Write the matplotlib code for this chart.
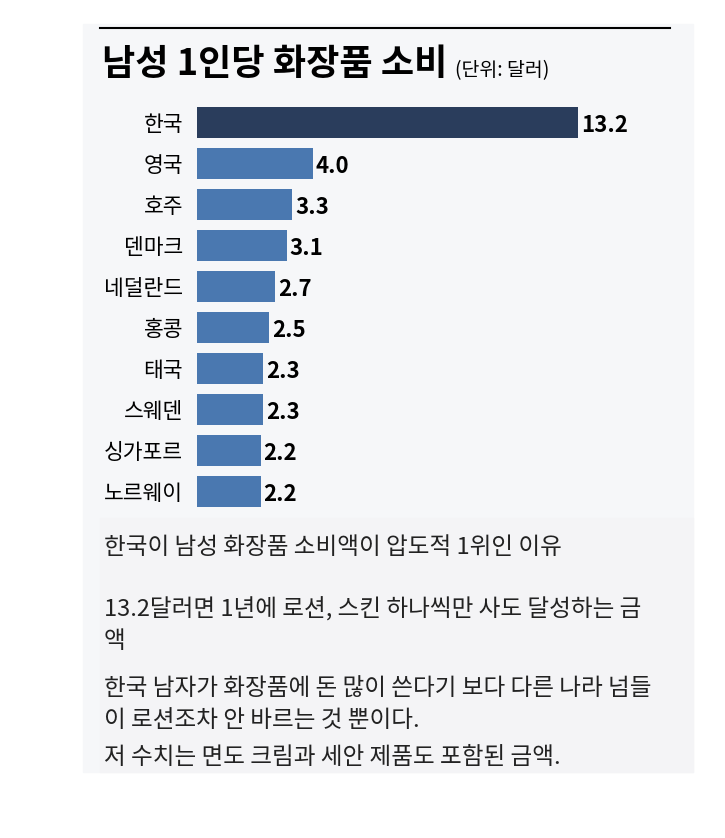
import matplotlib
matplotlib.use("Agg")
import matplotlib.pyplot as plt
from matplotlib.patches import Rectangle

plt.rcParams['font.family'] = ['Noto Sans CJK KR', 'DejaVu Sans']

countries = ["한국", "영국", "호주", "덴마크", "네덜란드", "홍콩", "태국", "스웨덴", "싱가포르", "노르웨이"]
values = [13.2, 4.0, 3.3, 3.1, 2.7, 2.5, 2.3, 2.3, 2.2, 2.2]
labels = ["13.2", "4.0", "3.3", "3.1", "2.7", "2.5", "2.3", "2.3", "2.2", "2.2"]
caption = ["한국이 남성 화장품 소비액이 압도적 1위인 이유",
           "",
           "13.2달러면 1년에 로션, 스킨 하나씩만 사도 달성하는 금",
           "액",
           "한국 남자가 화장품에 돈 많이 쓴다기 보다 다른 나라 넘들",
           "이 로션조차 안 바르는 것 뿐이다.",
           "저 수치는 면도 크림과 세안 제품도 포함된 금액."]

W, H = 725, 838
fig = plt.figure(figsize=(W/100, H/100), dpi=100)
bg = fig.add_axes([0, 0, 1, 1])
bg.set_xlim(0, W); bg.set_ylim(H, 0); bg.axis('off')
bg.add_patch(Rectangle((83, 24), 610, 748, color='#f6f7f9', zorder=0))
bg.add_patch(Rectangle((100, 518), 593, 254, color='#f4f4f6', zorder=0))
bg.plot([100, 670], [28, 28], color='black', lw=1.5)
bg.text(102, 64, "남성 1인당 화장품 소비", fontsize=26, fontweight='heavy', va='center', ha='left')
bg.text(455, 71, "(단위: 달러)", fontsize=14, va='center', ha='left')
lines_y = [547, 578, 609, 641, 688, 720, 757]
for t, y in zip(caption, lines_y):
    if t:
        bg.text(104, y, t, fontsize=17, va='center', ha='left', color='#222222')

ax = fig.add_axes([197/W, 1-512/H, (640-197)/W, (512-102)/H])
ax.set_facecolor('none')
colors = ['#2a3d5c'] + ['#4a78b0'] * (len(values)-1)
pos = list(range(len(values)))
ax.barh(pos, values, height=0.78, color=colors)
ax.set_xlim(0, (640-197)/28.9)
ax.set_ylim(len(values)-0.5, -0.5)
ax.set_yticks(pos)
ax.set_yticklabels(countries, fontsize=15.5, fontweight='medium')
ax.tick_params(length=0, pad=10)
ax.set_xticks([])
for s in ax.spines.values():
    s.set_visible(False)
for p, v, l in zip(pos, values, labels):
    ax.text(v + 0.1, p + 0.08, l, fontsize=16, va='center', ha='left', fontweight='bold')
fig.savefig("out.png", dpi=100)
